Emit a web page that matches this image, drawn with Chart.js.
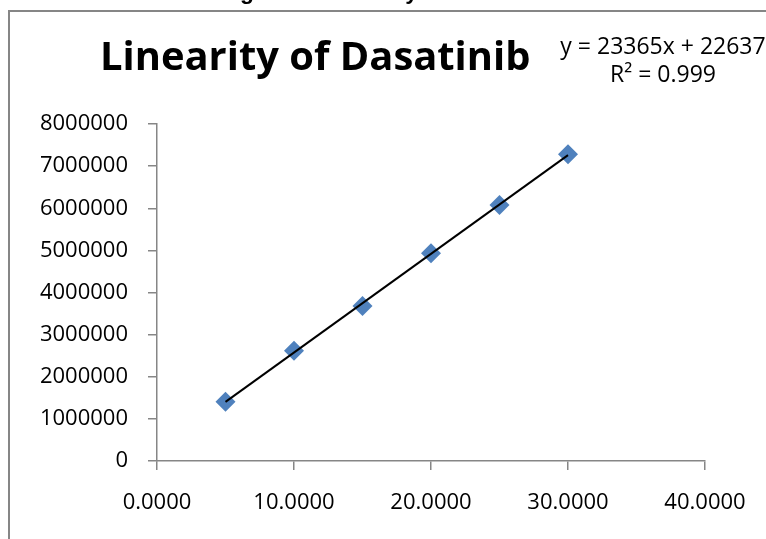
<!DOCTYPE html>
<html><head><meta charset="utf-8">
<script src="https://cdn.jsdelivr.net/npm/chart.js@4.4.1/dist/chart.umd.min.js"></script>
<style>html,body{margin:0;padding:0;background:#fff;overflow:hidden}canvas{display:block}</style>
</head><body>
<canvas id="c" width="766" height="539"></canvas>
<script>
// ---- data ----
const concentrations = [5, 10, 15, 20, 25, 30];
const peakAreas = [1408000, 2618000, 3680000, 4930000, 6080000, 7280000];
const xTickValues = [0, 10, 20, 30, 40];
const yTickValues = [0, 1000000, 2000000, 3000000, 4000000, 5000000, 6000000, 7000000, 8000000];
const chartTitle = 'Linearity of Dasatinib';
const equationLines = ['y = 23365x + 22637', 'R\u00b2 = 0.999'];
const captionText = 'Figure 3: Linearity of Dasatinib';

// least-squares trendline through the points (as the spreadsheet trendline)
function fitLine(xs, ys) {
  const n = xs.length;
  const mx = xs.reduce((a, b) => a + b, 0) / n;
  const my = ys.reduce((a, b) => a + b, 0) / n;
  let sxy = 0, sxx = 0;
  for (let i = 0; i < n; i++) { sxy += (xs[i] - mx) * (ys[i] - my); sxx += (xs[i] - mx) ** 2; }
  const m = sxy / sxx;
  return { m, b: my - m * mx };
}
const fit = fitLine(concentrations, peakAreas);
const xMin = Math.min(...concentrations), xMax = Math.max(...concentrations);
const trendPoints = [xMin, xMax].map(x => ({ x, y: fit.m * x + fit.b }));
const scatterPoints = concentrations.map((x, i) => ({ x, y: peakAreas[i] }));

const AXIS = '#868686';
const FONT = '"Open Sans", "Liberation Sans", sans-serif';

const decor = {
  id: 'decor',
  beforeDraw(chart) {
    const ctx = chart.ctx;
    ctx.save();
    ctx.fillStyle = '#fff';
    ctx.fillRect(0, 0, chart.width, chart.height);
    // partial caption cut off at top of the picture (only descenders show)
    ctx.fillStyle = '#000';
    ctx.textBaseline = 'alphabetic';
    ctx.textAlign = 'left';
    ctx.font = 'bold 20px "Liberation Sans", sans-serif';
    const gi = captionText.indexOf('g');
    const yi = captionText.indexOf('y');
    const cen = (i) => ctx.measureText(captionText.slice(0, i)).width + ctx.measureText(captionText[i]).width / 2;
    const d20 = cen(yi) - cen(gi);
    const size = 20 * 165 / d20;
    ctx.font = 'bold ' + size.toFixed(1) + 'px "Liberation Sans", sans-serif';
    ctx.fillText(captionText, 247 - cen(gi), -1);
    // chart area frame
    ctx.strokeStyle = AXIS;
    ctx.lineWidth = 2;
    ctx.strokeRect(9, 11, 900, 700);
    ctx.restore();
  },
  afterDraw(chart) {
    const ctx = chart.ctx;
    ctx.save();
    ctx.fillStyle = '#000';
    ctx.textBaseline = 'alphabetic';
    // title, fitted to the reference width
    ctx.font = 'bold 40px ' + FONT;
    const w40 = ctx.measureText(chartTitle).width;
    const ts = 40 * 430 / w40;
    ctx.font = 'bold ' + ts.toFixed(1) + 'px ' + FONT;
    ctx.textAlign = 'left';
    ctx.fillText(chartTitle, 100, 70);
    // trendline equation
    ctx.font = '23px ' + FONT;
    ctx.textAlign = 'center';
    ctx.fillText(equationLines[0], 663, 54);
    ctx.fillText(equationLines[1], 663, 82);
    ctx.restore();
  }
};

new Chart(document.getElementById('c'), {
  type: 'scatter',
  data: {
    datasets: [
      {
        type: 'line',
        label: 'Trendline',
        data: trendPoints,
        borderColor: '#000',
        borderWidth: 2,
        pointRadius: 0,
        fill: false,
        order: 0
      },
      {
        label: 'Dasatinib',
        data: scatterPoints,
        pointStyle: 'rectRot',
        pointRadius: 10,
        backgroundColor: '#4F81BD',
        borderColor: '#4F81BD',
        borderWidth: 0,
        order: 1
      }
    ]
  },
  options: {
    responsive: false,
    devicePixelRatio: 1,
    animation: false,
    events: [],
    layout: { padding: { top: 124, right: 61, bottom: 0, left: 0 } },
    plugins: { legend: { display: false }, title: { display: false }, tooltip: { enabled: false } },
    scales: {
      x: {
        type: 'linear',
        min: 0, max: 40,
        afterBuildTicks: s => { s.ticks = xTickValues.map(v => ({ value: v })); },
        afterFit: s => { s.height = 78; },
        ticks: { callback: v => Number(v).toFixed(4), color: '#000', font: { family: FONT, size: 22 }, padding: 20, maxRotation: 0, autoSkip: false },
        grid: { drawOnChartArea: false, drawTicks: true, tickLength: 9, color: AXIS, lineWidth: 1.5 },
        border: { color: AXIS, width: 1.5 }
      },
      y: {
        type: 'linear',
        min: 0, max: 8000000,
        afterBuildTicks: s => { s.ticks = yTickValues.map(v => ({ value: v })); },
        afterFit: s => { s.width = 157; },
        ticks: { callback: v => String(v), color: '#000', font: { family: FONT, size: 22 }, padding: 20, autoSkip: false },
        grid: { drawOnChartArea: false, drawTicks: true, tickLength: 9, color: AXIS, lineWidth: 1.5 },
        border: { color: AXIS, width: 1.5 }
      }
    }
  },
  plugins: [decor]
});
</script>
</body></html>
